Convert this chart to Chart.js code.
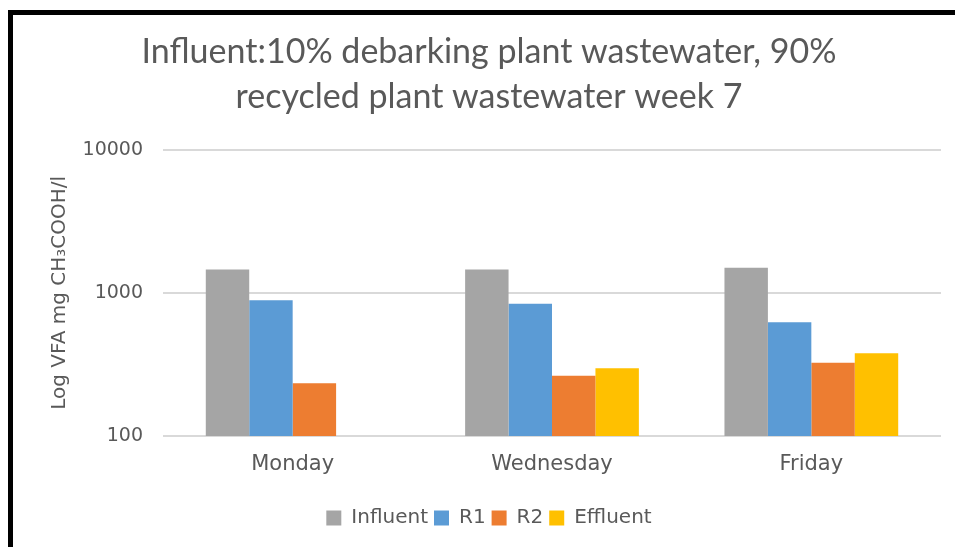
<!DOCTYPE html>
<html><head><meta charset="utf-8">
<script src="https://cdn.jsdelivr.net/npm/chart.js@4.4.1/dist/chart.umd.min.js"></script>
<style>
html,body{margin:0;padding:0;background:#fff;overflow:hidden}
#wrap{position:absolute;left:0;top:0;width:955px;height:547px}
#frame{position:absolute;left:8px;top:10px;width:960px;height:560px;border-left:5px solid #000;border-top:5px solid #000;pointer-events:none}
</style></head><body>
<div id="wrap"><canvas id="c"></canvas></div>
<div id="frame"></div>
<script>
const categories = ['Monday', 'Wednesday', 'Friday'];
const influent = [1456, 1456, 1496];
const r1 = [888, 841, 623];
const r2 = [234, 264, 325];
const effluent = [null, 297, 379];
const yTicks = [100, 1000, 10000];
const titleLines = ['Influent:10% debarking plant wastewater, 90%', 'recycled plant wastewater week 7'];
const yTitle = 'Log VFA mg CH\u2083COOH/l';

const textColor = '#595959';
const sans = "'DejaVu Sans', sans-serif";
const padL = 37;

new Chart(document.getElementById('c'), {
  type: 'bar',
  data: {
    labels: categories,
    datasets: [
      {label: 'Influent', data: influent, backgroundColor: '#A5A5A5'},
      {label: 'R1', data: r1, backgroundColor: '#5B9BD5'},
      {label: 'R2', data: r2, backgroundColor: '#ED7D31'},
      {label: 'Effluent', data: effluent, backgroundColor: '#FFC000'}
    ]
  },
  options: {
    responsive: true,
    maintainAspectRatio: false,
    animation: false,
    datasets: {bar: {barPercentage: 1, categoryPercentage: 0.67}},
    layout: {padding: {left: padL, right: 14, top: 0, bottom: 9}},
    plugins: {
      title: {
        display: true, text: titleLines, color: textColor,
        font: {family: "Lato, sans-serif", size: 34, weight: 'normal', lineHeight: 1.32},
        padding: {top: 30, bottom: 30}
      },
      legend: {
        position: 'bottom',
        labels: {boxWidth: 15, boxHeight: 15, color: textColor, padding: 6,
          font: {family: sans, size: 20}}
      },
      tooltip: {enabled: false}
    },
    scales: {
      x: {
        grid: {display: false, drawTicks: false},
        border: {display: false},
        ticks: {color: textColor, font: {family: sans, size: 21}, padding: 16},
        afterFit: s => { s.height = 66; }
      },
      y: {
        type: 'logarithmic', min: 100, max: 10000,
        afterBuildTicks: s => { s.ticks = yTicks.map(v => ({value: v})); },
        ticks: {color: textColor, font: {family: sans, size: 19}, padding: 20,
          callback: v => String(v)},
        grid: {color: '#d9d9d9', lineWidth: 2, drawTicks: false},
        border: {display: false},
        title: {display: true, text: yTitle, color: textColor,
          font: {family: sans, size: 20}, padding: {top: 48 - padL, bottom: 0}},
        afterFit: s => { s.width = 163 - padL; }
      }
    }
  }
});
</script>
</body></html>
